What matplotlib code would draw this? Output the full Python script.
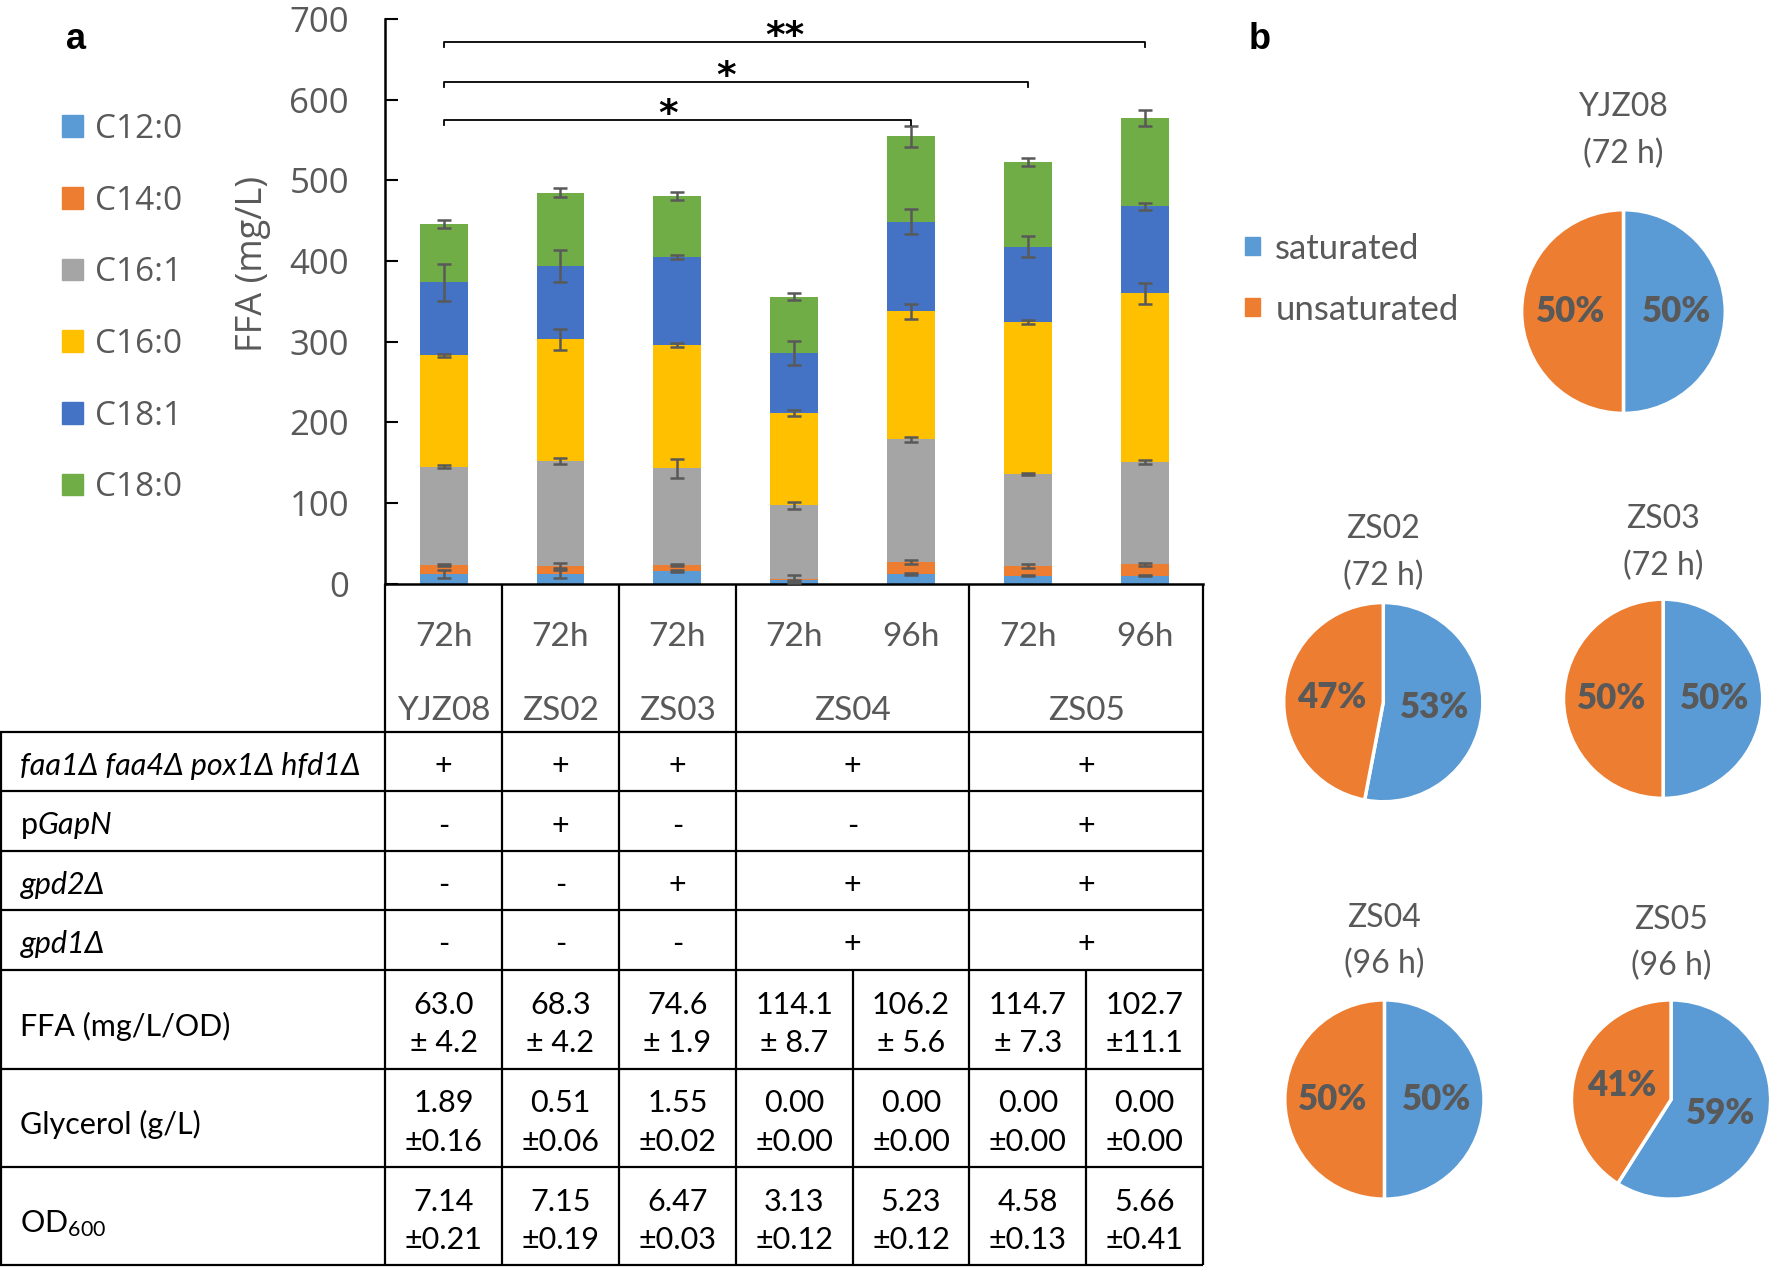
import numpy as np
import matplotlib
matplotlib.use("Agg")
import matplotlib.pyplot as plt
from matplotlib.patches import Patch

plt.rcParams['font.family'] = ['Lato', 'DejaVu Sans']
plt.rcParams['mathtext.fontset'] = 'custom'
plt.rcParams['mathtext.rm'] = 'Lato'
plt.rcParams['mathtext.it'] = 'Lato:italic'

GRAY = '#595959'

# ---- data -------------------------------------------------------------
times = ['72h', '72h', '72h', '72h', '96h', '72h', '96h']
strains = ['YJZ08', 'ZS02', 'ZS03', 'ZS04', 'ZS05']
strain_n = [1, 1, 1, 2, 2]          # samples per strain

fa_names = ['C12:0', 'C14:0', 'C16:1', 'C16:0', 'C18:1', 'C18:0']
fa_colors = ['#5B9BD5', '#ED7D31', '#A5A5A5', '#FFC000', '#4472C4', '#70AD47']
c12 = [12, 12, 16, 4, 12, 10, 10]
c14 = [11, 10, 7, 2, 15, 12, 14]
c161 = [122, 130, 120, 91, 152, 114, 127]
c160 = [138, 151, 153, 115, 159, 189, 209]
c181 = [91, 91, 109, 74, 111, 93, 108]
c180 = [72, 91, 76, 70, 106, 105, 110]
sd_c12 = [5.5, 5.5, 1.5, 1, 1.5, 1, 1]
sd_c14 = [1.5, 3, 1.5, 5, 2.4, 2.4, 1.9]
sd_c161 = [2, 3.8, 12, 4, 3.3, 1, 2.4]
sd_c160 = [2, 13, 2, 3.8, 9.3, 2.4, 13]
sd_c181 = [23, 20, 2.4, 15, 15, 13.5, 4.3]
sd_c180 = [5.5, 5.5, 5, 4.7, 13, 4.7, 10]

# significance brackets: (from sample, to sample, height mg/L, label)
sig_from = [0, 0, 0]
sig_to = [4, 5, 6]
sig_y = [575, 622, 672]
sig_txt = ['*', '*', '**']

geno_labels = ['faa1\u0394 faa4\u0394 pox1\u0394 hfd1\u0394', 'p$\\mathit{GapN}$',
               'gpd2\u0394', 'gpd1\u0394']
geno_italic = [True, False, True, True]
faa_row = ['+', '+', '+', '+', '+']
gapn_row = ['-', '+', '-', '-', '+']
gpd2_row = ['-', '-', '+', '+', '+']
gpd1_row = ['-', '-', '-', '+', '+']

ffa_mean = [63.0, 68.3, 74.6, 114.1, 106.2, 114.7, 102.7]
ffa_sd = [4.2, 4.2, 1.9, 8.7, 5.6, 7.3, 11.1]
gly_mean = [1.89, 0.51, 1.55, 0.00, 0.00, 0.00, 0.00]
gly_sd = [0.16, 0.06, 0.02, 0.00, 0.00, 0.00, 0.00]
od_mean = [7.14, 7.15, 6.47, 3.13, 5.23, 4.58, 5.66]
od_sd = [0.21, 0.19, 0.03, 0.12, 0.12, 0.13, 0.41]

pie_titles = ['YJZ08\n(72 h)', 'ZS02\n(72 h)', 'ZS03\n(72 h)', 'ZS04\n(96 h)', 'ZS05\n(96 h)']
saturated = [50, 53, 50, 50, 59]
unsaturated = [50, 47, 50, 50, 41]
pie_colors = ['#5B9BD5', '#ED7D31']

# ---- layout (reference pixel grid) -------------------------------------
W, H = 1565.0, 1125.0
L, R, T, B = 340, 1062, 17, 517


def fx(x):
    return x / W


def fy(y):
    return 1 - y / H


fig = plt.figure(figsize=(17.73, 12.70), dpi=100)
ov = fig.add_axes([0, 0, 1, 1])
ov.set_xlim(0, W)
ov.set_ylim(H, 0)
ov.axis('off')

# ---- stacked bars ------------------------------------------------------
ax = fig.add_axes([fx(L), fy(B), fx(R) - fx(L), fy(T) - fy(B)])
series = [c12, c14, c161, c160, c181, c180]
sds = [sd_c12, sd_c14, sd_c161, sd_c160, sd_c181, sd_c180]
x = np.arange(len(times))
bottom = np.zeros(len(times))
for vals, sd, col, name in zip(series, sds, fa_colors, fa_names):
    vals = np.array(vals, dtype=float)
    ax.bar(x, vals, width=0.41, bottom=bottom, color=col, label=name, zorder=2)
    top = bottom + vals
    ax.errorbar(x, top, yerr=sd, fmt='none', ecolor=GRAY, elinewidth=1.8,
                capsize=5, capthick=1.8, zorder=3)
    bottom = top

ax.set_xlim(-0.5, len(times) - 0.5)
ax.set_ylim(0, 700)
ax.set_yticks(range(0, 701, 100))
ax.set_xticks([])
for s in ['top', 'right']:
    ax.spines[s].set_visible(False)
ax.spines['left'].set_linewidth(1.8)
ax.spines['bottom'].set_linewidth(1.8)
ax.tick_params(axis='y', direction='in', length=9, width=1.5, pad=26,
               labelsize=25, labelcolor=GRAY)
for lab in ax.get_yticklabels():
    lab.set_family('Open Sans')
ax.set_ylabel('FFA (mg/L)', fontsize=26, color=GRAY, family='Open Sans')
ax.yaxis.set_label_coords(-0.14, 0.566)

for i, j, y, s in zip(sig_from, sig_to, sig_y, sig_txt):
    ax.plot([i, i, j, j], [y - 6, y, y, y - 6], color='black', lw=1.3,
            clip_on=False, zorder=4)
    ax.text((i + j) / 2 - 0.08, y - 6, s, ha='center', va='baseline', fontsize=27,
            fontweight='bold', family='DejaVu Sans', color='black')

fig.legend(handles=[Patch(color=c) for c in fa_colors], labels=fa_names,
           loc='upper left', bbox_to_anchor=(fx(55), fy(100)), frameon=False,
           borderpad=0, borderaxespad=0, handlelength=0.62, handleheight=0.62,
           handletextpad=0.35, labelspacing=1.16,
           prop={'family': 'Open Sans', 'size': 24}, labelcolor=GRAY)

# ---- table -------------------------------------------------------------
slot = (R - L) / len(times)
edges = L + slot * np.arange(len(times) + 1)
centers = (edges[:-1] + edges[1:]) / 2
cum = np.concatenate([[0], np.cumsum(strain_n)])
grp_edges = edges[cum]
grp_centers = (grp_edges[:-1] + grp_edges[1:]) / 2

LW = 1.6
DY = 4  # text baseline nudge
ov.vlines(grp_edges, B, 648, color='black', lw=LW)
geno_y = [648, 701, 754, 806, 859]
ov.hlines(geno_y, 0, R, color='black', lw=LW)
ov.vlines(np.concatenate([[1], grp_edges]), 648, 859, color='black', lw=LW)
val_y = [947, 1034, 1121]
ov.hlines(val_y, 0, R, color='black', lw=LW)
ov.vlines(np.concatenate([[1], edges]), 859, 1121, color='black', lw=LW)

for cx, t in zip(centers, times):
    ov.text(cx, 560 + DY, t, ha='center', va='center', fontsize=24, color=GRAY)
for cx, s in zip(grp_centers, strains):
    ov.text(cx, 626 + DY, s, ha='center', va='center', fontsize=24, color=GRAY)

geno_rows = [faa_row, gapn_row, gpd2_row, gpd1_row]
for k, (lab, it, row) in enumerate(zip(geno_labels, geno_italic, geno_rows)):
    yc = (geno_y[k] + geno_y[k + 1]) / 2 + DY
    ov.text(18, yc, lab, ha='left', va='center', fontsize=22,
            style='italic' if it else 'normal')
    for cx, m in zip(grp_centers, row):
        ov.text(cx, yc, m, ha='center', va='center', fontsize=22)

val_labels = ['FFA (mg/L/OD)', 'Glycerol (g/L)', 'OD$_{600}$']
val_rows = [(ffa_mean, ffa_sd, '{:.1f}', '\u00b1{:4.1f}'),
            (gly_mean, gly_sd, '{:.2f}', '\u00b1{:.2f}'),
            (od_mean, od_sd, '{:.2f}', '\u00b1{:.2f}')]
val_edges = [859] + val_y
for k, (lab, (mean, sd, f1, f2)) in enumerate(zip(val_labels, val_rows)):
    y0, y1 = val_edges[k], val_edges[k + 1]
    yc = (y0 + y1) / 2 + DY
    ov.text(18, yc + 2, lab, ha='left', va='center', fontsize=22)
    for cx, m, s in zip(centers, mean, sd):
        ov.text(cx, yc - 17, f1.format(m), ha='center', va='center', fontsize=22)
        ov.text(cx, yc + 17, f2.format(s), ha='center', va='center', fontsize=22)

# ---- panel labels ------------------------------------------------------
ov.text(67, 35, 'a', ha='center', va='center', fontsize=26, fontweight='bold',
        family='Liberation Sans')
ov.text(1112, 35, 'b', ha='center', va='center', fontsize=26, fontweight='bold',
        family='Liberation Sans')

# ---- pies --------------------------------------------------------------
pie_cx = [1433, 1221, 1468, 1222, 1475]
pie_cy = [276, 622, 619, 974, 974]
pie_r = [92, 90, 90, 90, 90]
title_y = [93, 467, 458, 811, 813]
for k in range(len(pie_titles)):
    cx, cy, r = pie_cx[k], pie_cy[k], pie_r[k]
    pa = fig.add_axes([fx(cx - r), fy(cy + r), (2 * r) / W, (2 * r) / H])
    wedges, _, autot = pa.pie([saturated[k], unsaturated[k]], colors=pie_colors,
                              startangle=90, counterclock=False,
                              autopct='%1.0f%%', pctdistance=0.52,
                              wedgeprops={'edgecolor': 'white', 'linewidth': 2.5})
    for t in autot:
        t.set_fontsize(25)
        t.set_fontweight('heavy')
        t.set_color(GRAY)
    pa.set_aspect('equal')
    pa.set_xlim(-1.02, 1.02)
    pa.set_ylim(-1.02, 1.02)
    pa.axis('off')
    t1, t2 = pie_titles[k].split('\n')
    ov.text(cx, title_y[k] + 2, t1, ha='center', va='center', fontsize=23, color=GRAY)
    ov.text(cx, title_y[k] + 43, t2, ha='center', va='center', fontsize=23, color=GRAY)

fig.legend(handles=[Patch(color=c) for c in pie_colors],
           labels=['saturated', 'unsaturated'], loc='upper left',
           bbox_to_anchor=(fx(1099), fy(206)), frameon=False, borderpad=0,
           borderaxespad=0, handlelength=0.42, handleheight=0.42,
           handletextpad=0.45, labelspacing=0.84,
           prop={'size': 25}, labelcolor=GRAY)

fig.savefig('out.png', dpi=100)
